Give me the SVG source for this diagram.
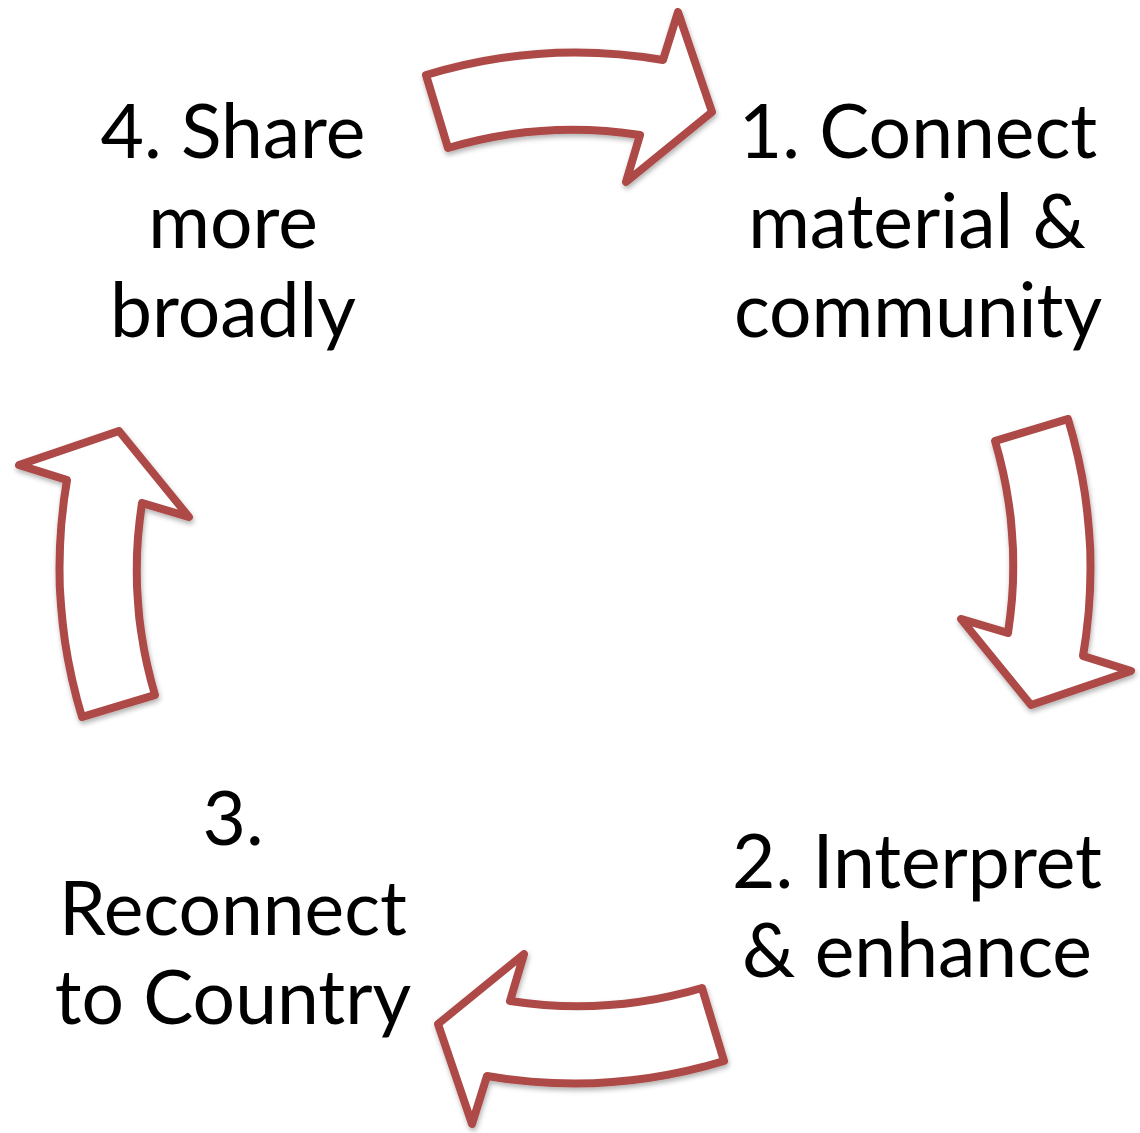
<svg xmlns="http://www.w3.org/2000/svg" xmlns:xlink="http://www.w3.org/1999/xlink" width="1140" height="1133" viewBox="0 0 1140 1133">
  <style>
    .label { font-family: "Lato", "Open Sans", "Liberation Sans", sans-serif; font-size: 75px; fill: #000000; text-anchor: middle; }
    .cycle-arrow { fill: #ffffff; stroke: #ad4a47; stroke-width: 8; stroke-linejoin: round; }
  </style>
  <defs>
    <filter id="soft-shadow" x="-10%" y="-10%" width="120%" height="120%">
      <feDropShadow dx="1" dy="3" stdDeviation="2.5" flood-color="#000000" flood-opacity="0.3"/>
    </filter>
    <!-- curved block arrow, arcs centred on the cycle centre (575,568) -->
    <path id="curved-arrow" class="cycle-arrow"
          d="M426,75 A515,515 0 0 1 663,60 L678,12 L712,112 L626,182 L640,135 A438,438 0 0 0 448,148 Z"/>
  </defs>

  <!-- connectors: one arrow rotated a quarter turn at a time around the cycle -->
  <g id="connectors" filter="url(#soft-shadow)">
    <use id="arrow-4-to-1" xlink:href="#curved-arrow" href="#curved-arrow"/>
    <use id="arrow-1-to-2" xlink:href="#curved-arrow" href="#curved-arrow" transform="rotate(90 575 568)"/>
    <use id="arrow-2-to-3" xlink:href="#curved-arrow" href="#curved-arrow" transform="rotate(180 575 568)"/>
    <use id="arrow-3-to-4" xlink:href="#curved-arrow" href="#curved-arrow" transform="rotate(270 575 568)"/>
  </g>

  <g id="node-1">
    <text class="label" x="918" y="158">1. Connect</text>
    <text class="label" x="917" y="248">material &amp;</text>
    <text class="label" x="918" y="337">community</text>
  </g>

  <g id="node-2">
    <text class="label" x="917" y="888">2. Interpret</text>
    <text class="label" x="917" y="977">&amp; enhance</text>
  </g>

  <g id="node-3">
    <text class="label" x="233" y="845">3.</text>
    <text class="label" x="233" y="935">Reconnect</text>
    <text class="label" x="233" y="1024">to Country</text>
  </g>

  <g id="node-4">
    <text class="label" x="233" y="158">4. Share</text>
    <text class="label" x="233" y="248">more</text>
    <text class="label" x="233" y="337">broadly</text>
  </g>
</svg>
